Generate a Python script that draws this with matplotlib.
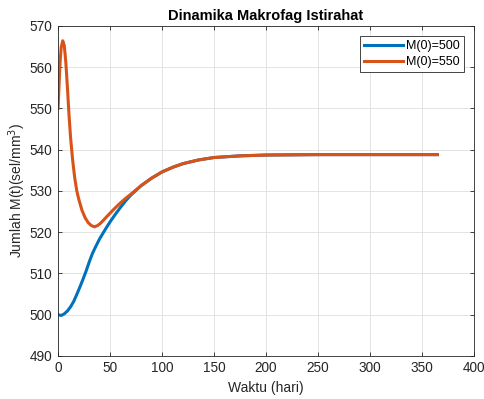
import numpy as np
import matplotlib
matplotlib.use("Agg")
import matplotlib.pyplot as plt

plt.rcParams['font.family'] = ['Liberation Sans', 'DejaVu Sans']

# data (t in hari, M in sel/mm^3)
t_500 = [0, 3, 6, 9, 12, 15, 18, 21, 24, 27, 30, 33, 36, 40, 45, 50, 55, 60,
         65, 70, 80, 90, 100, 110, 120, 135, 150, 175, 200, 250, 300, 365]
m_500 = [500.0, 499.8, 500.2, 500.9, 501.9, 503.2, 504.9, 506.7, 508.6, 510.6,
         512.8, 514.8, 516.4, 518.4, 520.5, 522.5, 524.3, 526.0, 527.6, 529.0,
         531.3, 533.1, 534.6, 535.7, 536.6, 537.5, 538.1, 538.5, 538.7, 538.8,
         538.8, 538.8]

t_550 = [0, 1, 2, 3, 4.5, 6, 7.5, 9, 10.5, 12, 14, 16, 18, 20, 23, 26, 29, 32,
         35, 38, 41, 44, 47, 50, 55, 60, 65, 70, 80, 90, 100, 110, 120, 135,
         150, 175, 200, 250, 300, 365]
m_550 = [550.0, 556.0, 561.5, 564.8, 566.4, 565.2, 561.0, 555.0, 548.5, 543.0,
         537.5, 533.2, 530.0, 527.9, 525.3, 523.5, 522.3, 521.6, 521.3, 521.6,
         522.2, 523.0, 523.8, 524.6, 525.9, 527.1, 528.2, 529.2, 531.3, 533.1,
         534.6, 535.7, 536.6, 537.5, 538.1, 538.5, 538.7, 538.8, 538.8, 538.8]

labels = ['M(0)=500', 'M(0)=550']

fig = plt.figure(figsize=(4.84, 3.99), dpi=100)
ax = fig.add_axes([0.12, 0.108, 0.859, 0.827])

ax.plot(t_500, m_500, color='#0072BD', lw=2.2, label=labels[0])
ax.plot(t_550, m_550, color='#D95319', lw=2.2, label=labels[1])

ax.set_xlim(0, 400)
ax.set_ylim(490, 570)
ax.set_xticks(np.arange(0, 401, 50))
ax.set_yticks(np.arange(490, 571, 10))
ax.grid(True, color='#dedede', lw=0.6)
ax.set_axisbelow(True)
ax.tick_params(direction='in', top=True, right=True, length=3, width=0.6,
               labelsize=9.8, colors='#262626', pad=4)
for s in ax.spines.values():
    s.set_color('#262626')
    s.set_linewidth(0.6)

ax.set_title('Dinamika Makrofag Istirahat', fontsize=10.5, fontweight='bold', pad=4)
ax.set_xlabel('Waktu (hari)', fontsize=10, color='#262626')
ax.set_ylabel('Jumlah M(t)(sel/mm$^3$)', fontsize=10, color='#262626', labelpad=1)

leg = ax.legend(loc='upper right', fontsize=9, fancybox=False, edgecolor='#262626',
                framealpha=1, handlelength=3.1, borderpad=0.35, labelspacing=0.3,
                handletextpad=0.2, borderaxespad=0.8)
leg.get_frame().set_linewidth(0.6)

fig.savefig('out.png', dpi=100)
